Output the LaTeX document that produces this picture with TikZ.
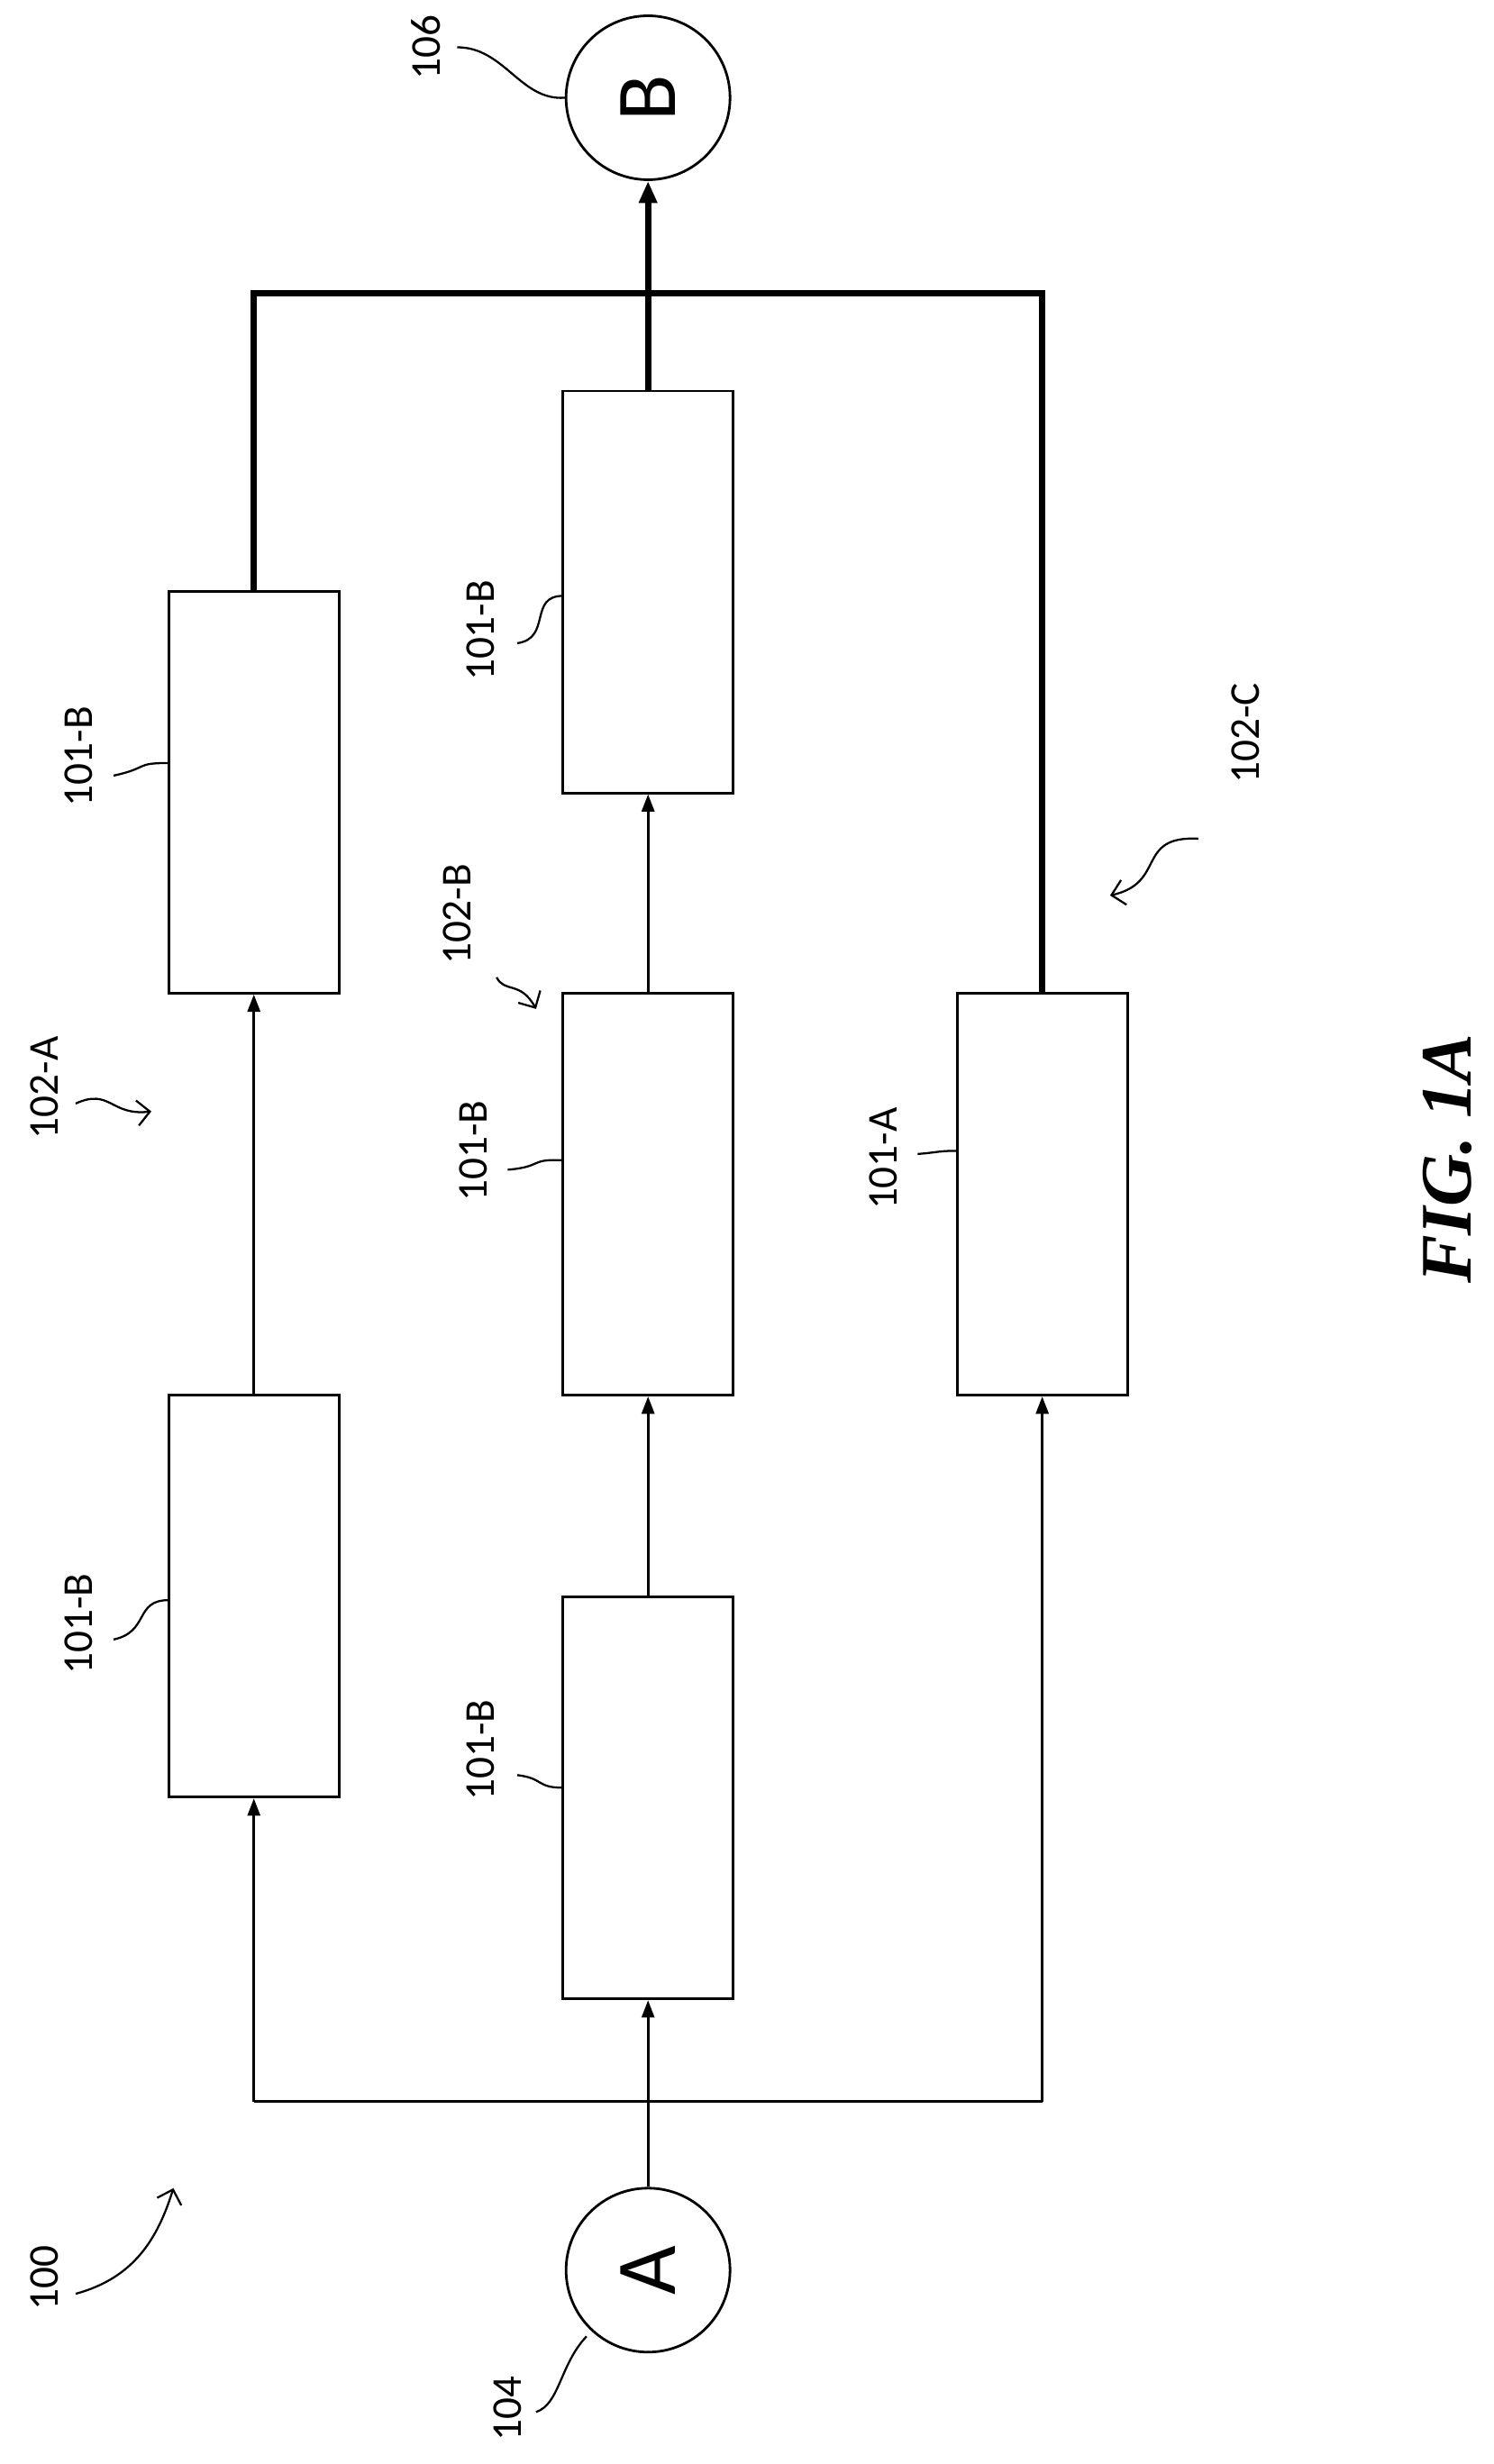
\documentclass[tikz,border=0pt]{standalone}
\usepackage{fontspec}
\setmainfont{Carlito}
\usetikzlibrary{arrows.meta}
\begin{document}
\begin{tikzpicture}[x=1pt,y=-1pt,
 box/.style={draw,line width=1.6pt,minimum width=108pt,minimum height=255pt,inner sep=0pt},
 circ/.style={draw,circle,line width=1.6pt,minimum size=104pt,inner sep=0pt,font=\fontsize{54}{54}\selectfont},
 lab/.style={rotate=90,font=\fontsize{27}{27}\selectfont},
 conn/.style={line width=1.6pt,-{Triangle[length=11pt,width=8pt]}},
 thick/.style={line width=4pt},
 lead/.style={line width=1.3pt}]
\useasboundingbox (0,0) rectangle (947,1563);
\node[box] (a1) at (161,502.5) {};
\node[box] (a2) at (161,1012.5) {};
\node[box] (b1) at (411,375.5) {};
\node[box] (b2) at (411,757.5) {};
\node[box] (b3) at (411,1140.5) {};
\node[box] (c1) at (661,757.5) {};
\node[circ] (A) at (411,1440) {\rotatebox{90}{A}};
\node[circ] (B) at (411,62) {\rotatebox{90}{B}};
\coordinate (j) at (411,1333);
\coordinate (jl) at (161,1333);
\coordinate (jr) at (661,1333);
\coordinate (t) at (411,186);
\coordinate (tl) at (161,186);
\coordinate (tr) at (661,186);
\draw[conn] (A.north) -- (b3.south);
\draw[line width=1.6pt] (jl) -- (jr);
\draw[conn] (jl) -- (a2.south);
\draw[conn] (jr) -- (c1.south);
\draw[conn] (a2.north) -- (a1.south);
\draw[conn] (b3.north) -- (b2.south);
\draw[conn] (b2.north) -- (b1.south);
\draw[thick] (a1.north) -- (tl) -- (tr) -- (c1.north);
\draw[thick] (b1.north) -- (t);
\draw[thick,-{Triangle[length=14pt,width=11pt]}] (t) -- (B.south);
% labels
\node[lab] (l100) at (28,1445) {100};
\draw[lead,-{Straight Barb[length=8pt]}] (48,1455) .. controls (85,1445) and (100,1420) .. (110,1388);
\node[lab] (l104) at (322,1528) {104};
\draw[lead] (340,1530) .. controls (355,1525) and (355,1500) .. (372,1482);
\node[lab] (l106) at (270,30) {106};
\draw[lead] (290,30) .. controls (320,30) and (330,64) .. (B.west);
\node[lab] (l102a) at (28,690) {102-A};
\draw[lead,-{Straight Barb[length=8pt]}] (48,700) .. controls (70,690) and (70,708) .. (96,705);
\node[lab] (l102b) at (290,580) {102-B};
\draw[lead,-{Straight Barb[length=8pt]}] (315,620) .. controls (320,630) and (330,622) .. (340,640);
\node[lab] (l102c) at (790,465) {102-C};
\draw[lead,-{Straight Barb[length=8pt]}] (760,532) .. controls (720,530) and (740,560) .. (704,568);
\node[lab] (l1) at (50,1030) {101-B};
\draw[lead] (72,1040) .. controls (95,1035) and (85,1015) .. (107,1015);
\node[lab] (l2) at (50,480) {101-B};
\draw[lead] (72,492) .. controls (95,487) and (85,484) .. (107,484);
\node[lab] (l3) at (305,400) {101-B};
\draw[lead] (328,408) .. controls (350,405) and (335,378) .. (357,378);
\node[lab] (l4) at (300,730) {101-B};
\draw[lead] (322,742) .. controls (345,740) and (335,735) .. (357,736);
\node[lab] (l5) at (305,1110) {101-B};
\draw[lead] (328,1126) .. controls (345,1128) and (340,1134) .. (357,1134);
\node[lab] (l6) at (560,735) {101-A};
\draw[lead] (582,732) .. controls (595,731) and (595,730) .. (607,730);
\node[rotate=90,font=\fontsize{46}{46}\selectfont\bfseries\itshape\rmfamily] (fig) at (918,735) {\setmainfont{Liberation Serif}\bfseries\itshape FIG. 1A};
\end{tikzpicture}
\end{document}
